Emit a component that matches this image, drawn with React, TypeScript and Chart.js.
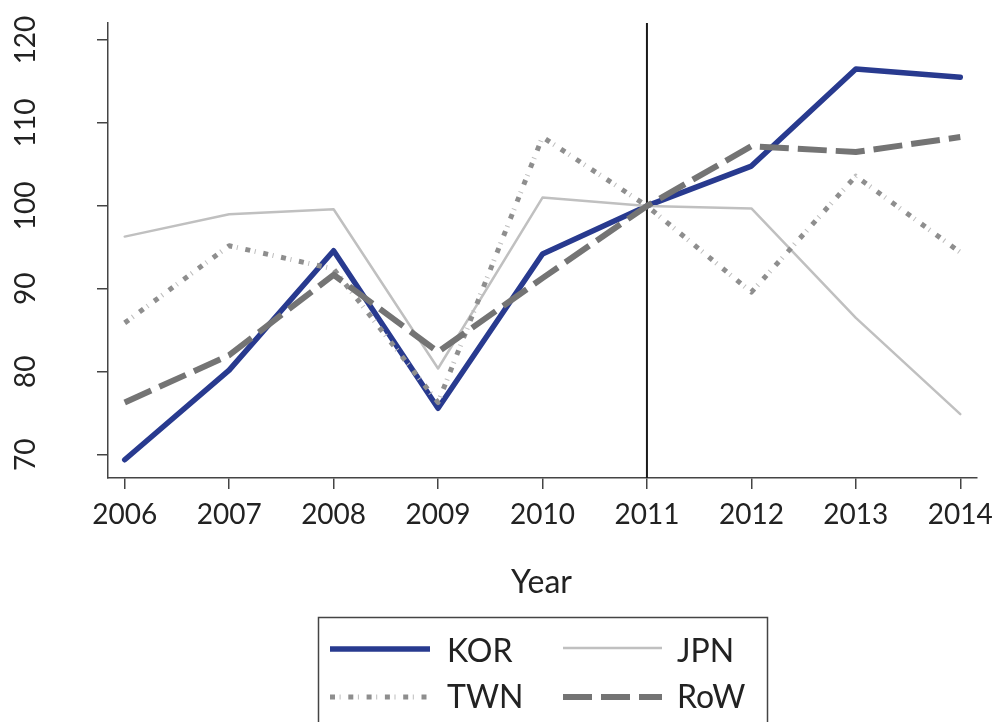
import React, { useEffect, useRef } from "react";
import { Chart, registerables } from "chart.js";

Chart.register(...registerables);

const YEARS = [2006, 2007, 2008, 2009, 2010, 2011, 2012, 2013, 2014];
const KOR = [69.4, 80.2, 94.6, 75.6, 94.2, 100, 104.8, 116.5, 115.5];
const JPN = [96.3, 99.0, 99.6, 80.4, 101.0, 100, 99.7, 86.5, 74.9];
const TWN = [85.9, 95.2, 92.4, 76.3, 108.3, 100, 89.6, 103.6, 94.4];
const ROW = [76.3, 82.0, 91.7, 82.4, 91.3, 100, 107.2, 106.5, 108.3];
const Y_TICKS = [70, 80, 90, 100, 110, 120];
const REF_YEAR = 2011;
const X_MIN = 2005.84;
const X_MAX = 2014.16;
const Y_MIN = 67.2;
const Y_MAX = 122.05;

const FONT = "Lato, 'Open Sans', sans-serif";
const AXIS = "#444444";
const TEXT = "#222222";

const pts = (vals: number[]) => YEARS.map((x, i) => ({ x, y: vals[i] }));

const STYLE = {
  KOR: { color: "#283a8f", width: 5.5, dash: [] as number[] },
  JPN: { color: "#c0c0c0", width: 2.5, dash: [] as number[] },
  TWN: { color: "#8e8e8e", width: 5, dash: [5, 13.3] },
  TWNT: { color: "#bdbdbd", width: 5, dash: [1, 17.3] },
  ROW: { color: "#747474", width: 6, dash: [29, 9] },
};

const overlayPlugin = {
  id: "overlay",
  afterDraw(chart: any) {
    const { ctx, chartArea } = chart;
    const y = chart.scales.y;
    ctx.save();
    ctx.fillStyle = TEXT;
    ctx.font = `28px ${FONT}`;
    ctx.textAlign = "center";
    ctx.textBaseline = "alphabetic";
    y.ticks.forEach((t: any) => {
      const py = y.getPixelForValue(t.value);
      ctx.save();
      ctx.translate(35, py);
      ctx.rotate(-Math.PI / 2);
      ctx.fillText(String(t.value), 0, 0);
      ctx.restore();
    });
    ctx.font = `32px ${FONT}`;
    ctx.fillText("Year", (chartArea.left + chartArea.right) / 2 - 1, 593);

    // legend box
    ctx.strokeStyle = AXIS;
    ctx.lineWidth = 1.5;
    ctx.strokeRect(318.5, 617.5, 449, 160);

    const seg = (st: any, x1: number, x2: number, yy: number, offset = 0, cap = "butt") => {
      ctx.save();
      ctx.strokeStyle = st.color;
      ctx.lineWidth = st.width;
      ctx.setLineDash(st.dash);
      ctx.lineDashOffset = offset;
      ctx.lineCap = cap;
      ctx.beginPath();
      ctx.moveTo(x1, yy);
      ctx.lineTo(x2, yy);
      ctx.stroke();
      ctx.restore();
    };
    seg(STYLE.KOR, 330, 430, 649);
    seg(STYLE.JPN, 563, 662, 648);
    seg(STYLE.TWNT, 330, 430, 697, -9.6);
    seg(STYLE.TWN, 330, 430, 697);
    seg(STYLE.ROW, 563, 662, 697);

    ctx.fillStyle = TEXT;
    ctx.font = `32px ${FONT}`;
    ctx.textAlign = "left";
    ctx.fillText("KOR", 447, 662);
    ctx.fillText("JPN", 677, 662);
    ctx.fillText("TWN", 447, 708);
    ctx.fillText("RoW", 677, 708);
    ctx.restore();
  },
};

export default function App() {
  const ref = useRef<HTMLCanvasElement>(null);
  useEffect(() => {
    if (!ref.current) return;
    const line = (label: string, vals: any[], st: any, extra: any = {}) => ({
      label,
      data: vals,
      borderColor: st.color,
      backgroundColor: st.color,
      borderWidth: st.width,
      borderDash: st.dash,
      borderCapStyle: st.dash.length ? "butt" : "round",
      borderJoinStyle: "round",
      pointRadius: 0,
      pointHoverRadius: 0,
      tension: 0,
      fill: false,
      ...extra,
    });
    const chart = new Chart(ref.current, {
      type: "line",
      data: {
        datasets: [
          line("RoW", pts(ROW), STYLE.ROW),
          line("TWN", pts(TWN), STYLE.TWN),
          line("TWN ticks", pts(TWN), STYLE.TWNT, { borderDashOffset: -9.6 }),
          line("JPN", pts(JPN), STYLE.JPN),
          line("KOR", pts(KOR), STYLE.KOR),
          line(
            "ref",
            [
              { x: REF_YEAR, y: Y_MIN },
              { x: REF_YEAR, y: Y_MAX },
            ],
            { color: "#1a1a1a", width: 2, dash: [] },
            { borderCapStyle: "butt" }
          ),
        ],
      },
      options: {
        animation: false,
        responsive: false,
        events: [],
        layout: { padding: { top: 23, right: 17, left: 0, bottom: 0 } },
        plugins: { legend: { display: false }, tooltip: { enabled: false } },
        scales: {
          x: {
            type: "linear",
            min: X_MIN,
            max: X_MAX,
            afterBuildTicks: (s: any) => {
              s.ticks = YEARS.map((v) => ({ value: v }));
            },
            afterFit: (s: any) => {
              s.height = 722 - 478;
              s.paddingLeft = 0;
              s.paddingRight = 0;
            },
            grid: {
              drawOnChartArea: false,
              drawTicks: true,
              tickLength: 11,
              color: AXIS,
              tickColor: AXIS,
              lineWidth: 1.5,
            },
            border: { display: true, color: AXIS, width: 1.5 },
            ticks: {
              font: { family: FONT, size: 28 },
              color: TEXT,
              padding: 9,
              maxRotation: 0,
              autoSkip: false,
              callback: (v: any) => String(v),
            },
          },
          y: {
            type: "linear",
            min: Y_MIN,
            max: Y_MAX,
            afterBuildTicks: (s: any) => {
              s.ticks = Y_TICKS.map((v) => ({ value: v }));
            },
            afterFit: (s: any) => {
              s.width = 108;
              s.paddingTop = 0;
              s.paddingBottom = 0;
            },
            grid: {
              drawOnChartArea: false,
              drawTicks: true,
              tickLength: 11,
              color: AXIS,
              tickColor: AXIS,
              lineWidth: 1.5,
            },
            border: { display: true, color: AXIS, width: 1.5 },
            ticks: { display: false },
          },
        },
      },
      plugins: [overlayPlugin],
    });
    return () => chart.destroy();
  }, []);
  return (
    <div style={{ position: "absolute", left: 0, top: 0, width: 994, height: 722, background: "#fff" }}>
      <canvas ref={ref} width={994} height={722} style={{ display: "block" }} />
    </div>
  );
}
